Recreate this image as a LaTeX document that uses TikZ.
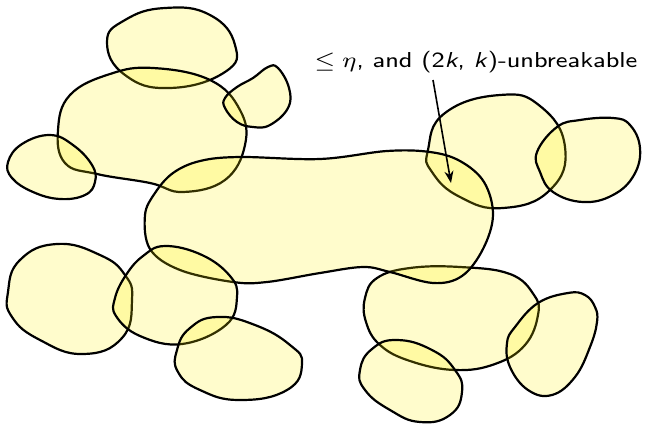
\documentclass[tikz,border=0pt]{standalone}
\usetikzlibrary{arrows.meta}
\begin{document}
\begin{tikzpicture}[x=1pt,y=-1pt,
  blob/.style={draw=black,line width=2.2pt,fill=yellow,fill opacity=0.2,draw opacity=1},
  lbl/.style={font=\footnotesize\sffamily,inner sep=0pt,xscale=3.1,yscale=2.7}]
\useasboundingbox (0,0) rectangle (645,424);
% A top
\draw[blob] plot[smooth cycle,tension=0.8] coordinates {(107,42) (125,20) (165,8) (210,15) (235,45) (225,72) (170,88) (125,75)};
% B big upper-left
\draw[blob] plot[smooth cycle,tension=0.7] coordinates {(58,130) (70,95) (110,74) (153,68) (210,80) (240,110) (245,145) (225,180) (183,192) (150,183) (97,174) (65,163)};
% D
\draw[blob] plot[smooth cycle,tension=0.7] coordinates {(225,98) (237,87) (253,78) (268,67) (278,68) (289,88) (288,108) (270,125) (253,127) (237,122) (225,108)};
% E
\draw[blob] plot[smooth cycle,tension=0.7] coordinates {(8,162) (22,144) (50,135) (73,145) (92,165) (95,182) (85,195) (60,199) (33,192) (12,178)};
% F
\draw[blob] plot[smooth cycle,tension=0.8] coordinates {(428,150) (445,113) (500,95) (540,106) (565,147) (550,190) (503,208) (460,197) (432,172)};
% G
\draw[blob] plot[smooth cycle,tension=0.7] coordinates {(537,152) (557,127) (580,120) (613,118) (630,125) (640,148) (634,175) (613,195) (583,202) (553,192) (540,172)};
% K
\draw[blob] plot[smooth cycle,tension=0.7] coordinates {(365,298) (377,278) (410,268) (460,267) (510,274) (534,295) (538,315) (525,345) (495,364) (455,370) (410,361) (380,345) (366,322)};
% C central
\draw[blob] plot[smooth cycle,tension=0.6] coordinates {(145,215) (150,249) (180,270) (233,282) (267,282) (320,273) (363,267) (390,272) (433,283) (462,276) (483,249) (493,215) (484,182) (460,161) (430,152) (387,151) (320,159) (240,157) (200,161) (173,173) (155,193)};
% H
\draw[blob] plot[smooth cycle,tension=0.8] coordinates {(8,292) (20,260) (57,244) (100,255) (125,275) (132,300) (122,338) (83,354) (40,340) (12,317)};
% I
\draw[blob] plot[smooth cycle,tension=0.7] coordinates {(115,298) (126,275) (143,256) (165,246) (202,255) (230,276) (237,297) (226,325) (182,344) (140,336) (116,316)};
% J
\draw[blob] plot[smooth cycle,tension=0.8] coordinates {(177,350) (190,328) (217,317) (255,325) (290,345) (302,364) (287,390) (240,400) (200,390) (178,372)};
% L
\draw[blob] plot[smooth cycle,tension=0.8] coordinates {(360,370) (372,349) (397,340) (432,350) (455,370) (462,392) (450,415) (420,422) (390,410) (365,390)};
% M
\draw[blob] plot[smooth cycle,tension=0.7] coordinates {(507,343) (515,327) (538,303) (568,293) (585,295) (595,307) (597,322) (590,347) (575,377) (552,395) (528,390) (510,367)};
% label and arrow
\node[lbl] (label) at (476,62) {$\le\eta$, and (2\textit{k}, \textit{k})-unbreakable};
\coordinate (tip) at (451,183);
\draw[line width=1.6pt,-{Stealth[length=12pt,width=9pt]}] (433,80) -- (tip);
\end{tikzpicture}
\end{document}
